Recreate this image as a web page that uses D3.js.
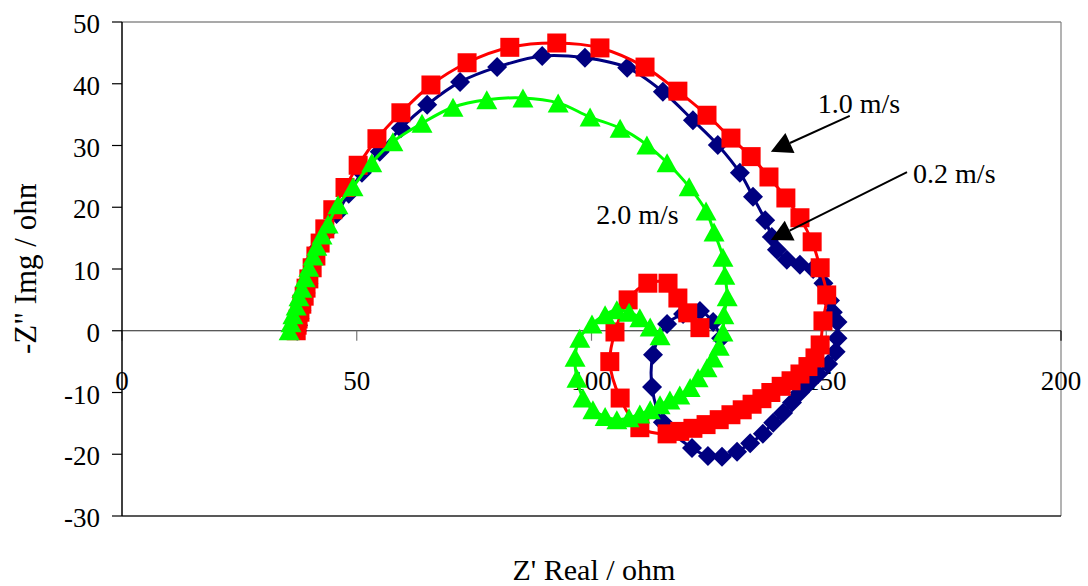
<!DOCTYPE html>
<html><head><meta charset="utf-8">
<script src="https://cdn.jsdelivr.net/npm/d3@7"></script>
<style>
body{margin:0;background:#fff}
svg{display:block}
text{font-family:"Liberation Serif","Times New Roman",serif;fill:#000}
</style>
</head><body><svg id="c" width="1088" height="586"></svg>
<script>
const xTicks=[0,50,100,150,200];
const yTicks=[-30,-20,-10,0,10,20,30,40,50];
const seriesNames=["0.2 m/s","1.0 m/s","2.0 m/s"];

// 0.2 m/s (navy diamonds)
const real02=[37.3,37.5,37.8,38.2,38.6,39.1,39.7,40.3,41.0,42.0,43.6,45.7,48.3,51.1,54.9,59.4,65.0,72.0,79.9,89.5,98.6,107.6,115.2,121.6,126.9,131.6,134.4,137.0,138.4,139.5,141.6,144.4,147.2,149.4,150.8,151.4,152.4,152.4,152.0,150.4,148.3,146.3,144.4,142.7,140.8,138.7,136.5,133.8,131.0,127.8,124.8,121.4,115.2,112.9,113.1,116.1,119.5,123.1,125.9,127.6];
const img02=[0,0.9,2.0,3.3,4.7,6.1,7.7,9.5,11.5,13.6,16.0,18.9,22.2,25.6,29.0,32.8,36.6,40.3,42.7,44.5,44.2,42.6,38.7,34.1,30.1,25.6,21.7,17.9,15.2,13.1,11.5,10.7,10.0,7.7,4.9,3.0,1.4,-1.2,-3.4,-5.4,-7.0,-8.5,-10.0,-11.6,-13.3,-14.9,-16.7,-18.2,-19.6,-20.4,-20.3,-19.0,-14.8,-9.1,-3.9,1.1,2.7,3.2,1.4,-1.2];

// 1.0 m/s (red squares)
const real10=[37.1,37.3,37.5,37.9,38.3,38.8,39.2,39.8,40.5,41.3,42.2,43.2,44.9,47.5,50.3,54.3,59.4,65.8,73.5,82.6,92.6,101.8,111.4,118.4,124.6,129.7,134.0,137.8,141.4,144.4,147.0,148.7,150.1,149.3,148.7,147.6,146.1,144.4,142.5,140.4,138.2,136.3,134.2,132.1,129.7,127.2,124.4,121.6,118.8,116.1,110.3,106.1,103.9,105.0,107.8,112.0,116.3,118.4,120.5,123.1];
const img10=[0,0.9,1.9,3.0,4.3,5.6,6.9,8.4,10.2,12.1,14.2,16.5,19.6,23.2,26.8,31.1,35.3,39.8,43.4,45.9,46.6,45.8,42.7,38.8,34.9,31.2,28.2,24.9,21.5,18.3,14.4,10.2,5.8,1.6,-2.3,-4.4,-5.8,-7.0,-8.1,-9.0,-10.0,-11.0,-11.9,-12.8,-13.6,-14.4,-15.2,-15.8,-16.3,-16.7,-15.7,-10.9,-5.0,-0.2,5.0,7.7,7.7,5.3,2.9,0.5];

// 2.0 m/s (green triangles)
const real20=[35.6,36.0,36.4,37.1,37.7,38.3,39.0,39.8,40.7,41.5,42.6,43.9,46.0,49.2,53.2,57.7,63.9,70.5,77.7,85.4,92.9,99.7,106.1,111.8,116.1,120.8,124.4,126.1,128.0,128.4,128.9,128.2,128.0,127.2,125.9,124.6,122.7,121.0,118.8,116.7,114.6,112.5,110.3,108.0,105.4,102.9,100.3,98.2,96.9,96.5,97.5,100.1,102.9,105.4,108.0,110.3,112.5,114.6];
const img20=[0,1.3,2.6,4.0,5.5,6.9,8.6,10.3,12.1,13.7,15.5,17.3,20.4,23.3,27.2,30.6,33.6,36.2,37.4,37.7,36.9,34.6,32.8,30.1,27.2,23.3,19.4,16.0,11.9,9.0,5.5,2.6,-0.2,-2.5,-4.4,-6.0,-7.6,-9.2,-10.4,-11.2,-12.0,-12.8,-13.5,-14.1,-14.4,-13.9,-12.8,-10.9,-7.7,-4.3,-1.2,1.1,2.6,3.4,3.0,2.1,0.6,-0.8];

// annotations (data units): label position, arrow start, arrow tip
const noteLabels=["1.0 m/s","0.2 m/s","2.0 m/s"];
const noteX=[148.2,168.5,101.0];
const noteY=[35.3,23.9,17.3];
const arrowFromX=[155.0,167.2];
const arrowFromY=[34.8,25.7];
const arrowToX=[138.2,138.2];
const arrowToY=[29.0,14.7];

const svg=d3.select("#c");
const pL=122,pR=1061,pT=22,pB=516;
const x=d3.scaleLinear().domain([0,200]).range([pL,pR]);
const y=d3.scaleLinear().domain([-30,50]).range([pB,pT]);

svg.append("rect").attr("width",1088).attr("height",586).attr("fill","#fff");

// plot border
svg.append("line").attr("x1",pL).attr("x2",pR).attr("y1",pT).attr("y2",pT).attr("stroke","#555").attr("stroke-width",1.2);
svg.append("line").attr("x1",pR).attr("x2",pR).attr("y1",pT).attr("y2",pB).attr("stroke","#808080").attr("stroke-width",1.2);
svg.append("line").attr("x1",pL).attr("x2",pR).attr("y1",pB).attr("y2",pB).attr("stroke","#222").attr("stroke-width",1.3);

// x axis at y=0
svg.append("line").attr("x1",pL).attr("x2",pR).attr("y1",y(0)).attr("y2",y(0)).attr("stroke","#222").attr("stroke-width",1.2);
xTicks.forEach(t=>{
  svg.append("line").attr("x1",x(t)).attr("x2",x(t)).attr("y1",y(0)).attr("y2",y(0)+10).attr("stroke",t===200?"#000":"#777").attr("stroke-width",1.2);
  svg.append("text").attr("x",x(t)).attr("y",y(0)+59).attr("text-anchor","middle").attr("font-size",27).text(t);
});

// y axis
svg.append("line").attr("x1",pL).attr("x2",pL).attr("y1",pT).attr("y2",pB).attr("stroke","#000").attr("stroke-width",1.5);
yTicks.forEach(t=>{
  svg.append("line").attr("x1",pL-10).attr("x2",pL).attr("y1",y(t)).attr("y2",y(t)).attr("stroke","#000").attr("stroke-width",1.2);
  svg.append("text").attr("x",100).attr("y",y(t)+11).attr("text-anchor","end").attr("font-size",27).text(t);
});

// axis titles
svg.append("text").attr("x",594).attr("y",580).attr("text-anchor","middle").attr("font-size",30).text("Z' Real / ohm");
svg.append("clipPath").attr("id","yclip").append("rect").attr("x",0).attr("y",184).attr("width",100).attr("height",300);
svg.append("g").attr("clip-path","url(#yclip)")
  .append("text").attr("transform","translate(36,354) rotate(-90)").attr("font-size",31).text("-Z\" Img / ohm");

// series
const series=[
  {name:seriesNames[0],xs:real02,ys:img02,color:"#000080",shape:"diamond"},
  {name:seriesNames[1],xs:real10,ys:img10,color:"#FF0000",shape:"square"},
  {name:seriesNames[2],xs:real20,ys:img20,color:"#00FF00",shape:"triangle"}
];
const shapes={
  diamond:"M0,-10L10,0L0,10L-10,0Z",
  square:"M-9.5,-9.5H9.5V9.5H-9.5Z",
  triangle:"M0,-9.5L10.5,9.5L-10.5,9.5Z"
};
const line=d3.line().x(d=>x(d[0])).y(d=>y(d[1])).curve(d3.curveCatmullRom.alpha(0.5));
series.forEach(s=>{
  const pts=s.xs.map((v,i)=>[v,s.ys[i]]);
  const g=svg.append("g");
  g.append("path").attr("d",line(pts)).attr("fill","none").attr("stroke",s.color).attr("stroke-width",3);
  g.selectAll("path.m").data(pts).enter().append("path").attr("class","m")
    .attr("d",shapes[s.shape]).attr("transform",d=>`translate(${x(d[0])},${y(d[1])})`)
    .attr("fill",s.color);
});

// annotations
noteLabels.forEach((t,i)=>{
  svg.append("text").attr("x",x(noteX[i])).attr("y",y(noteY[i])).attr("font-size",28).text(t);
});
arrowFromX.forEach((fx,i)=>{
  const x1=x(fx),y1=y(arrowFromY[i]),x2=x(arrowToX[i]),y2=y(arrowToY[i]);
  const dx=x2-x1,dy=y2-y1,L=Math.hypot(dx,dy),ux=dx/L,uy=dy/L;
  const hl=21,hw=11;
  const bx=x2-ux*hl,by=y2-uy*hl;
  svg.append("line").attr("x1",x1).attr("y1",y1).attr("x2",bx).attr("y2",by).attr("stroke","#000").attr("stroke-width",2);
  svg.append("path").attr("d",`M${x2},${y2}L${bx-uy*hw},${by+ux*hw}L${bx+uy*hw},${by-ux*hw}Z`).attr("fill","#000");
});
</script></body></html>
